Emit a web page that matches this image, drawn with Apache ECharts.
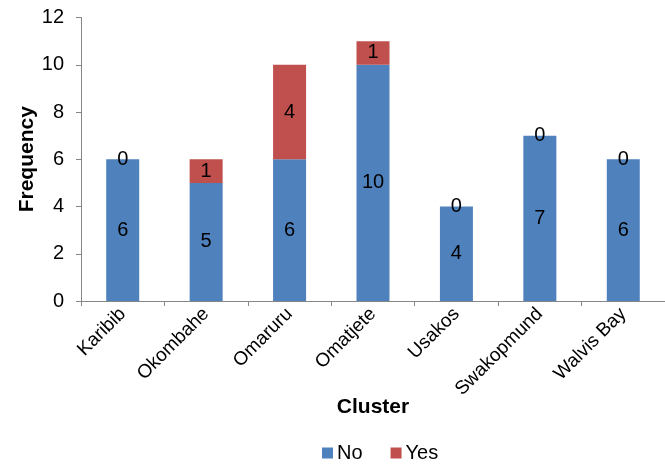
<!DOCTYPE html>
<html>
<head>
<meta charset="utf-8">
<script src="https://cdn.jsdelivr.net/npm/echarts@6/dist/echarts.min.js"></script>
<style>
html,body{margin:0;padding:0;background:#fff;}
#chart{width:665px;height:466px;}
</style>
</head>
<body>
<div id="chart"></div>
<script>
// Clusters and counts per answer
const clusters = ['Karibib', 'Okombahe', 'Omaruru', 'Omatjete', 'Usakos', 'Swakopmund', 'Walvis Bay'];
const noValues = [6, 5, 6, 10, 4, 7, 6];
const yesValues = [0, 1, 4, 1, 0, 0, 0];
const yTicks = { min: 0, max: 12, interval: 2 };

const FONT = 'Liberation Sans, Arial, sans-serif';
const FS = 20;
const chart = echarts.init(document.getElementById('chart'));

const labelStyle = {
  show: true,
  position: 'inside',
  color: '#000',
  fontSize: FS,
  fontFamily: FONT
};

chart.setOption({
  animation: false,
  textStyle: { fontFamily: FONT },
  grid: { left: 81, top: 17.5, width: 588, height: 283.5, containLabel: false },
  legend: {
    data: ['No', 'Yes'],
    top: 438,
    left: 317,
    itemWidth: 11,
    itemHeight: 11,
    itemGap: 28,
    icon: 'rect',
    textStyle: { fontSize: FS, color: '#000', fontFamily: FONT, padding: [0, 0, 0, -1] }
  },
  xAxis: {
    type: 'category',
    data: clusters,
    name: 'Cluster',
    nameLocation: 'middle',
    nameGap: 96,
    nameMoveOverlap: false,
    nameTextStyle: { fontSize: 21, fontWeight: 'bold', color: '#000', fontFamily: FONT },
    axisLine: { lineStyle: { color: '#868686', width: 1 } },
    axisTick: { show: true, length: 5, lineStyle: { color: '#868686' } },
    axisLabel: {
      rotate: 45,
      interval: 0,
      fontSize: 19,
      color: '#000',
      fontFamily: FONT,
      margin: 10
    }
  },
  yAxis: {
    type: 'value',
    min: yTicks.min,
    max: yTicks.max,
    interval: yTicks.interval,
    name: 'Frequency',
    nameLocation: 'middle',
    nameGap: 43,
    nameMoveOverlap: false,
    nameTextStyle: { fontSize: 21, fontWeight: 'bold', color: '#000', fontFamily: FONT },
    axisLine: { show: true, lineStyle: { color: '#868686', width: 1 } },
    axisTick: { show: true, length: 5, lineStyle: { color: '#868686' } },
    splitLine: { show: false },
    axisLabel: { fontSize: FS, color: '#000', fontFamily: FONT, margin: 17 }
  },
  series: [
    {
      name: 'No',
      type: 'bar',
      stack: 'total',
      data: noValues,
      barWidth: 33,
      itemStyle: { color: '#4F81BD', borderWidth: 0 },
      label: labelStyle
    },
    {
      name: 'Yes',
      type: 'bar',
      stack: 'total',
      data: yesValues,
      barWidth: 33,
      itemStyle: { color: '#C0504D', borderWidth: 0 },
      label: labelStyle
    }
  ]
});
</script>
</body>
</html>
